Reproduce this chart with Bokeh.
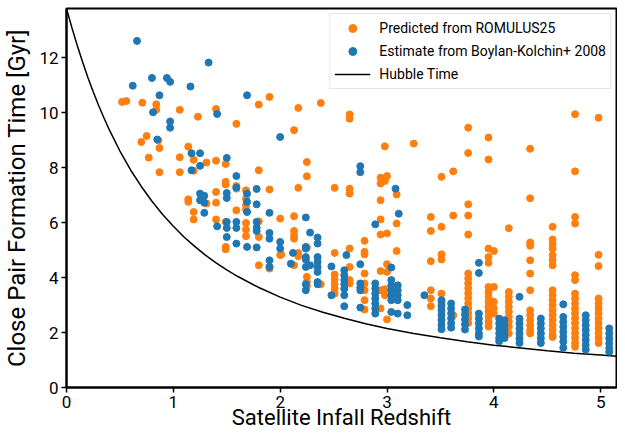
from bokeh.plotting import figure
from bokeh.models import Range1d, FixedTicker, Legend, LegendItem
from bokeh.embed import file_html
from bokeh.resources import INLINE

FONT = "Roboto"

x_ticks = [0, 1, 2, 3, 4, 5]
y_ticks = [0, 2, 4, 6, 8, 10, 12]

# Hubble time (age of the universe)
hubble_z = [0.0, 0.05, 0.1, 0.15, 0.2, 0.25, 0.3, 0.35, 0.4, 0.5, 0.6, 0.7, 0.8, 0.9, 1.0,
            1.1, 1.2, 1.3, 1.4, 1.5, 1.6, 1.8, 2.0, 2.2, 2.4, 2.6, 2.8, 3.0, 3.25, 3.5,
            3.75, 4.0, 4.25, 4.5, 4.75, 5.0, 5.2]
hubble_t = [13.80, 13.11, 12.46, 11.86, 11.29, 10.77, 10.28, 9.82, 9.39, 8.61, 7.92, 7.32,
            6.78, 6.30, 5.87, 5.48, 5.14, 4.82, 4.54, 4.28, 4.05, 3.64, 3.29, 2.99, 2.74,
            2.52, 2.32, 2.15, 1.97, 1.81, 1.67, 1.54, 1.44, 1.34, 1.25, 1.18, 1.12]

# Predicted from Romulus25 (orange)
orange_z = [
    0.52, 0.56, 0.71, 0.84, 0.84, 1.06, 1.23, 1.40, 1.59,
    0.75, 0.70, 0.86, 0.87, 0.77, 0.87, 1.06, 1.06, 1.14, 1.19, 1.19, 1.31, 1.40, 1.49, 1.49, 1.49, 1.59, 1.59,
    1.14, 1.14, 1.19, 1.19, 1.31, 1.40, 1.40, 1.40, 1.49, 1.59, 1.68, 1.68, 1.68, 1.68, 1.68, 1.68, 1.68, 1.49, 1.49,
    1.80, 1.90, 2.13, 2.17, 2.25, 2.25, 2.17, 1.80, 1.90, 1.80, 2.00, 2.13, 2.13, 2.13, 2.13,
    2.00, 2.17, 2.25, 2.13, 2.25, 2.25, 2.25, 1.90, 1.90, 1.80, 1.80, 2.01, 2.17,
    2.38, 2.65, 2.65, 2.98, 2.51, 2.65, 2.65, 2.94, 2.94, 2.98, 3.00, 3.09, 2.94, 2.94, 2.94, 3.00, 3.09, 3.09,
    2.79, 2.79, 2.79, 2.51, 2.65, 2.65, 2.79, 2.94, 3.00, 3.00, 2.98, 2.98, 2.94, 3.00, 2.79, 2.79, 2.79, 2.79,
    2.51, 2.51, 2.51, 2.51, 2.51, 2.65, 2.65, 2.38, 2.94,
    3.25, 3.51, 3.62, 3.76, 3.76, 3.76, 3.76, 3.76, 3.95, 3.95, 4.34, 4.34, 4.76, 4.98, 4.76,
    3.41, 3.41, 3.41, 3.51, 3.51, 3.51, 3.62, 4.14, 3.95, 4.00, 3.95, 3.95,
    4.34, 4.34, 4.34, 4.34, 4.34, 4.55, 4.55, 4.55, 4.55, 4.55, 4.55, 4.55,
    4.76, 4.76, 4.98, 4.98, 4.76, 4.76, 3.41, 3.41, 3.41, 3.51, 3.51, 3.51, 3.62,
    3.76, 3.76, 3.76, 3.76, 3.76, 3.76, 3.76, 3.76, 3.76, 3.76, 3.76,
    3.95, 3.95, 3.95, 3.95, 3.95, 3.95, 3.95, 3.95, 3.95,
    4.00, 4.00, 4.00, 4.00,
    4.14, 4.14, 4.14, 4.14, 4.14, 4.14, 4.14, 4.14, 4.14,
    4.34, 4.34, 4.34, 4.34, 4.34, 4.34,
    4.55, 4.55, 4.55, 4.55, 4.55, 4.55, 4.55, 4.55, 4.55, 4.55, 4.55,
    4.76, 4.76, 4.76, 4.76, 4.76, 4.76, 4.76, 4.76, 4.76, 4.76, 4.76, 4.76,
    4.98, 4.98, 4.98, 4.98, 4.98, 4.98, 4.98, 4.98, 4.98, 4.98,
]
orange_t = [
    10.40, 10.43, 10.37, 10.31, 10.11, 10.11, 9.86, 10.14, 9.60,
    9.16, 8.94, 9.00, 8.72, 8.37, 7.84, 7.84, 8.38, 8.77, 8.29, 7.89, 8.19, 8.26, 8.14, 7.49, 7.39, 7.34, 7.24,
    6.85, 6.76, 6.39, 6.12, 6.70, 7.12, 6.73, 6.12, 6.03, 6.45, 7.18, 6.88, 6.64, 6.48, 5.99, 5.75, 5.51, 5.12, 5.03,
    10.30, 10.58, 9.37, 10.18, 8.21, 7.69, 7.27, 7.91, 7.21, 6.05, 6.15, 6.24, 5.70, 5.54, 5.42,
    4.82, 4.78, 5.10, 4.45, 4.03, 3.84, 3.69, 4.39, 4.33, 4.45, 5.48, 4.84, 4.90,
    10.36, 9.94, 9.79, 8.78, 7.27, 7.24, 7.06, 7.64, 7.43, 7.52, 7.70, 7.03, 6.82, 6.12, 5.57, 5.61, 5.97, 4.97,
    5.34, 4.94, 4.85, 4.90, 5.06, 4.39, 4.15, 4.24, 4.49, 4.21, 3.58, 3.36, 2.88, 2.48, 3.79, 3.54, 3.18, 2.84,
    4.11, 3.93, 3.76, 3.60, 3.42, 3.91, 3.79, 3.76, 3.54,
    8.88, 7.67, 7.87, 9.46, 8.54, 6.67, 6.26, 5.57, 9.10, 8.30, 8.69, 6.89, 9.95, 9.82, 7.87,
    6.21, 5.70, 4.60, 5.85, 4.85, 4.66, 6.26, 5.80, 5.06, 4.97, 4.75, 4.54,
    5.28, 5.16, 4.63, 4.15, 3.54, 5.85, 5.39, 5.24, 5.06, 4.82, 4.63, 4.45,
    6.21, 5.97, 4.83, 4.42, 4.09, 3.91, 3.54, 3.24, 2.96, 3.42, 3.12, 2.93, 2.63,
    4.15, 3.97, 3.79, 3.61, 3.43, 3.25, 3.07, 2.89, 2.71, 2.53, 2.35,
    3.66, 3.48, 3.30, 3.12, 2.94, 2.76, 2.58, 2.40, 2.22,
    3.66, 3.12, 2.88, 2.69,
    3.48, 3.30, 3.12, 2.94, 2.76, 2.58, 2.40, 2.22, 1.97,
    2.81, 2.63, 2.45, 2.27, 2.09, 1.97,
    3.54, 3.36, 3.18, 3.00, 2.82, 2.64, 2.46, 2.28, 2.10, 1.92, 1.84,
    3.42, 3.24, 3.06, 2.88, 2.70, 2.52, 2.34, 2.16, 1.98, 1.80, 1.62, 1.48,
    3.24, 3.06, 2.88, 2.70, 2.52, 2.34, 2.16, 1.98, 1.80, 1.62,
]

# Estimate from Boylan-Kolchin+ 2008 (blue)
blue_z = [
    0.66, 1.33, 0.80, 0.94, 0.97, 0.62, 1.16, 1.69, 0.87, 0.81, 1.41, 0.97, 0.97, 0.85, 2.00,
    1.17, 1.25, 1.17, 1.25, 1.50, 1.59, 1.59, 1.69, 1.25, 1.29, 1.25, 1.29, 1.29, 1.50, 1.50, 1.69, 1.69,
    1.41, 1.50, 1.50, 1.59, 1.59, 1.50, 1.59, 1.69,
    1.78, 1.78, 1.90, 1.78, 1.78, 1.78, 1.90, 1.90, 1.78, 1.90, 1.90, 2.00, 2.00,
    2.24, 2.28, 2.12, 2.24, 2.24, 2.10, 2.24, 2.28, 2.24, 2.24, 2.24, 2.24,
    2.35, 2.35, 2.35, 2.35, 2.35, 2.35, 2.35, 2.35,
    2.75, 2.75, 3.08, 3.11, 2.89, 2.62, 2.75, 3.04, 2.48, 2.48,
    2.60, 2.60, 2.60, 2.60, 2.60, 2.60, 2.60,
    2.75, 2.75, 2.75, 2.75,
    2.89, 2.89, 2.89, 2.89, 2.89, 2.89, 2.89,
    3.04, 3.04, 3.04, 3.04, 3.04, 3.04,
    3.10, 3.10, 3.10, 3.10, 3.10,
    3.19, 3.19, 3.35, 3.86, 3.86, 4.24, 4.65,
    3.51, 3.51, 3.51, 3.51, 3.51, 3.51, 3.51,
    3.60, 3.60, 3.60, 3.60, 3.60, 3.60,
    3.73, 3.73, 3.73, 3.73, 3.73,
    3.86, 3.86, 3.86, 3.86, 3.86, 3.86,
    4.05, 4.05, 4.05, 4.05, 4.05, 4.05,
    4.10, 4.10, 4.10, 4.10, 4.10,
    4.24, 4.24, 4.24, 4.24, 4.24, 4.24,
    4.44, 4.44, 4.44, 4.44, 4.44, 4.44,
    4.65, 4.65, 4.65, 4.65, 4.65, 4.65, 4.65,
    4.86, 4.86, 4.86, 4.86, 4.86, 4.86, 4.86, 4.86,
    5.08, 5.08, 5.08, 5.08, 5.08, 5.08,
]
blue_t = [
    12.62, 11.83, 11.27, 11.27, 11.13, 10.99, 10.96, 10.64, 10.64, 10.02, 9.96, 9.69, 9.46, 9.03, 9.12,
    8.53, 8.53, 7.91, 8.07, 8.36, 7.70, 7.28, 7.06, 7.06, 6.98, 6.82, 6.73, 6.36, 7.08, 6.90, 6.76, 6.39,
    5.87, 6.03, 5.81, 6.03, 5.81, 5.48, 5.24, 5.12,
    7.23, 6.67, 6.36, 6.03, 5.82, 5.70, 5.63, 5.42, 5.10, 4.63, 4.39, 5.30, 5.06,
    6.19, 5.64, 4.90, 5.06, 4.66, 4.51, 4.39, 4.45, 3.76, 3.54, 5.12, 4.75,
    5.46, 5.24, 4.75, 4.57, 4.39, 4.21, 3.84, 3.76,
    8.06, 7.84, 7.24, 6.33, 5.94, 4.82, 4.49, 4.37, 4.41, 3.36,
    4.27, 4.09, 3.91, 3.76, 3.60, 3.36, 2.96,
    3.79, 3.64, 3.54, 2.91,
    3.79, 3.60, 3.42, 3.24, 3.06, 2.88, 2.69,
    3.91, 3.72, 3.54, 3.36, 3.18, 2.75,
    3.72, 3.54, 3.36, 3.18, 2.69,
    3.00, 2.63, 3.36, 4.54, 4.17, 3.30, 3.03,
    3.18, 3.00, 2.82, 2.64, 2.46, 2.28, 2.12,
    3.06, 2.88, 2.70, 2.52, 2.34, 2.18,
    2.84, 2.66, 2.48, 2.30, 2.11,
    2.69, 2.51, 2.33, 2.15, 1.97, 1.86,
    2.51, 2.33, 2.15, 1.97, 1.80, 1.68,
    2.45, 2.27, 2.09, 1.91, 1.80,
    2.51, 2.33, 2.15, 1.97, 1.79, 1.62,
    2.51, 2.33, 2.15, 1.97, 1.79, 1.62,
    2.57, 2.39, 2.21, 2.03, 1.85, 1.67, 1.45,
    2.63, 2.45, 2.27, 2.09, 1.91, 1.73, 1.55, 1.38,
    2.15, 1.97, 1.79, 1.61, 1.43, 1.30,
]

assert len(orange_z) == len(orange_t)
assert len(blue_z) == len(blue_t)

p = figure(width=617, height=435, output_backend="svg", toolbar_location=None,
           x_range=Range1d(0, 5.148), y_range=Range1d(0, 13.8),
           min_border_left=64, min_border_right=1, min_border_top=8, min_border_bottom=48)

p.outline_line_color = "black"
p.outline_line_width = 2
p.xgrid.visible = False
p.ygrid.visible = False
p.background_fill_color = "white"
p.border_fill_color = "white"

for ax, ticks in ((p.xaxis[0], x_ticks), (p.yaxis[0], y_ticks)):
    ax.ticker = FixedTicker(ticks=ticks)
    ax.axis_line_color = "black"
    ax.axis_line_width = 2
    ax.major_tick_line_color = "black"
    ax.major_tick_line_width = 1.5
    ax.major_tick_in = 0
    ax.major_tick_out = 5
    ax.minor_tick_in = 0
    ax.minor_tick_out = 0
    ax.major_label_text_font = FONT
    ax.major_label_text_font_size = "17px"
    ax.major_label_text_color = "black"
    ax.axis_label_text_font = FONT
    ax.axis_label_text_font_style = "normal"
    ax.axis_label_text_color = "black"

p.xaxis.axis_label = "Satellite Infall Redshift"
p.xaxis.axis_label_text_font_size = "22px"
p.xaxis.major_label_standoff = 3
p.xaxis.axis_label_standoff = -6
p.yaxis.axis_label = "Close Pair Formation Time [Gyr]"
p.yaxis.axis_label_text_font_size = "24px"
p.yaxis.major_label_standoff = 3
p.yaxis.axis_label_standoff = 5

r_line = p.line(hubble_z, hubble_t, line_color="black", line_width=1.5)
r_or = p.scatter(orange_z, orange_t, size=7, fill_color="#ff7f0e", line_color="#ff7f0e")
r_bl = p.scatter(blue_z, blue_t, size=7, fill_color="#1f77b4", line_color="#1f77b4")

legend = Legend(items=[
    LegendItem(label="Predicted from ROMULUS25", renderers=[r_or]),
    LegendItem(label="Estimate from Boylan-Kolchin+ 2008", renderers=[r_bl]),
    LegendItem(label="Hubble Time", renderers=[r_line]),
], location="top_right")
legend.border_line_color = "#cccccc"
legend.border_line_width = 1
legend.background_fill_color = "white"
legend.background_fill_alpha = 0.8
legend.label_text_font = FONT
legend.label_text_font_size = "14px"
legend.label_text_color = "black"
legend.glyph_height = 20
legend.glyph_width = 36
legend.spacing = 3
legend.padding = 4
legend.margin = 5
legend.label_standoff = 9
p.add_layout(legend)

open("out.html", "w").write(file_html(p, INLINE))
